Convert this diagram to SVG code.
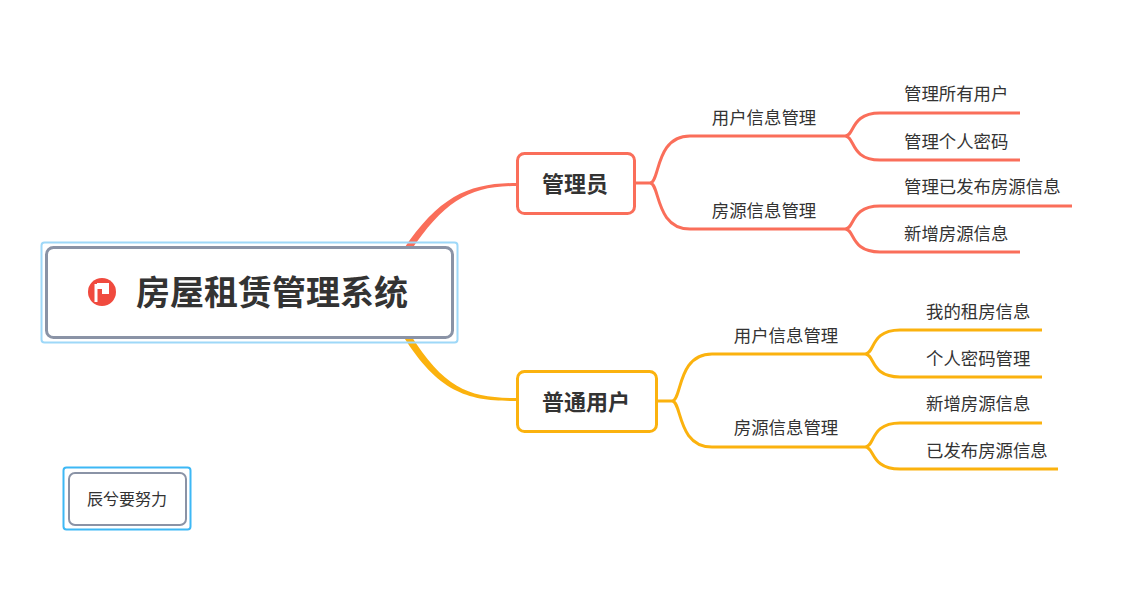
<svg xmlns="http://www.w3.org/2000/svg" width="1136" height="590" viewBox="0 0 1136 590">
<style>
text{font-family:"Noto Sans CJK SC","Liberation Sans",sans-serif;fill:#333}
.l{font-size:17.4px}
.r{stroke:#fa6e5a;fill:none;stroke-width:3}
.y{stroke:#fbb20e;fill:none;stroke-width:3}
</style>
<rect width="1136" height="590" fill="#fff"/>
<g id="connectors">
<path d="M403,250 C440,195 470,183 517,183 L517,186 C470,186 445,200 410,252 Z" fill="#fa6e5a"/>
<path d="M403,336 C440,395 470,401 517,401 L517,398 C470,398 445,390 410,334 Z" fill="#fbb20e"/>
<path class="r" d="M635,183 H650 C660,183 655,136 690,136 H845"/>
<path class="r" d="M650,183 C660,183 655,229 690,229 H845"/>
<path class="r" d="M845,136 C855,136 850,113 880,113 H1020 M845,136 C855,136 850,160 880,160 H1020"/>
<path class="r" d="M845,229 C855,229 850,206 880,206 H1072 M845,229 C855,229 850,252 880,252 H1020"/>
<path class="y" d="M657,401 H672 C682,401 677,354 712,354 H865 M672,401 C682,401 677,447 712,447 H865"/>
<path class="y" d="M865,354 C875,354 870,330 900,330 H1042 M865,354 C875,354 870,377 900,377 H1042"/>
<path class="y" d="M865,447 C875,447 870,423 900,423 H1042 M865,447 C875,447 870,469 900,469 H1058"/>
</g>
<g id="root">
<rect x="41.5" y="242.5" width="416" height="100" rx="3" fill="none" stroke="#9ed8f8" stroke-width="2"/>
<rect x="46.5" y="247.5" width="406" height="90" rx="7" fill="#fff" stroke="#8a93a6" stroke-width="3"/>
<circle cx="102" cy="292" r="14" fill="#f04a3e"/>
<path d="M96,284 V302" stroke="#fff" stroke-width="3"/>
<path d="M97,283 H109 V294 H102 V289 H97 Z" fill="#fff"/>
<text x="272" y="305" font-size="34" font-weight="bold" text-anchor="middle">房屋租赁管理系统</text>
</g>
<g id="admin">
<rect x="517.5" y="153.5" width="117" height="60" rx="7" fill="#fff" stroke="#fa6e5a" stroke-width="3"/>
<text x="575" y="192" font-size="22" font-weight="bold" text-anchor="middle">管理员</text>
</g>
<g id="user">
<rect x="517.5" y="371.5" width="139" height="60" rx="7" fill="#fff" stroke="#fbb20e" stroke-width="3"/>
<text x="586" y="410" font-size="22" font-weight="bold" text-anchor="middle">普通用户</text>
</g>
<g id="a1"><text class="l" x="764" y="124" text-anchor="middle">用户信息管理</text></g>
<g id="a2"><text class="l" x="764" y="217" text-anchor="middle">房源信息管理</text></g>
<g id="a11"><text class="l" x="904" y="100">管理所有用户</text></g>
<g id="a12"><text class="l" x="904" y="148">管理个人密码</text></g>
<g id="a21"><text class="l" x="904" y="193">管理已发布房源信息</text></g>
<g id="a22"><text class="l" x="904" y="240">新增房源信息</text></g>
<g id="u1"><text class="l" x="786" y="342" text-anchor="middle">用户信息管理</text></g>
<g id="u2"><text class="l" x="786" y="434" text-anchor="middle">房源信息管理</text></g>
<g id="u11"><text class="l" x="926" y="318">我的租房信息</text></g>
<g id="u12"><text class="l" x="926" y="365">个人密码管理</text></g>
<g id="u21"><text class="l" x="926" y="410">新增房源信息</text></g>
<g id="u22"><text class="l" x="926" y="457">已发布房源信息</text></g>
<g id="note">
<rect x="63.5" y="467.5" width="127" height="62" rx="3" fill="none" stroke="#3db8f5" stroke-width="2"/>
<rect x="69" y="473" width="117" height="52" rx="6" fill="#fff" stroke="#8a93a6" stroke-width="2"/>
<text x="127" y="505" font-size="16" text-anchor="middle">辰兮要努力</text>
</g>
</svg>
